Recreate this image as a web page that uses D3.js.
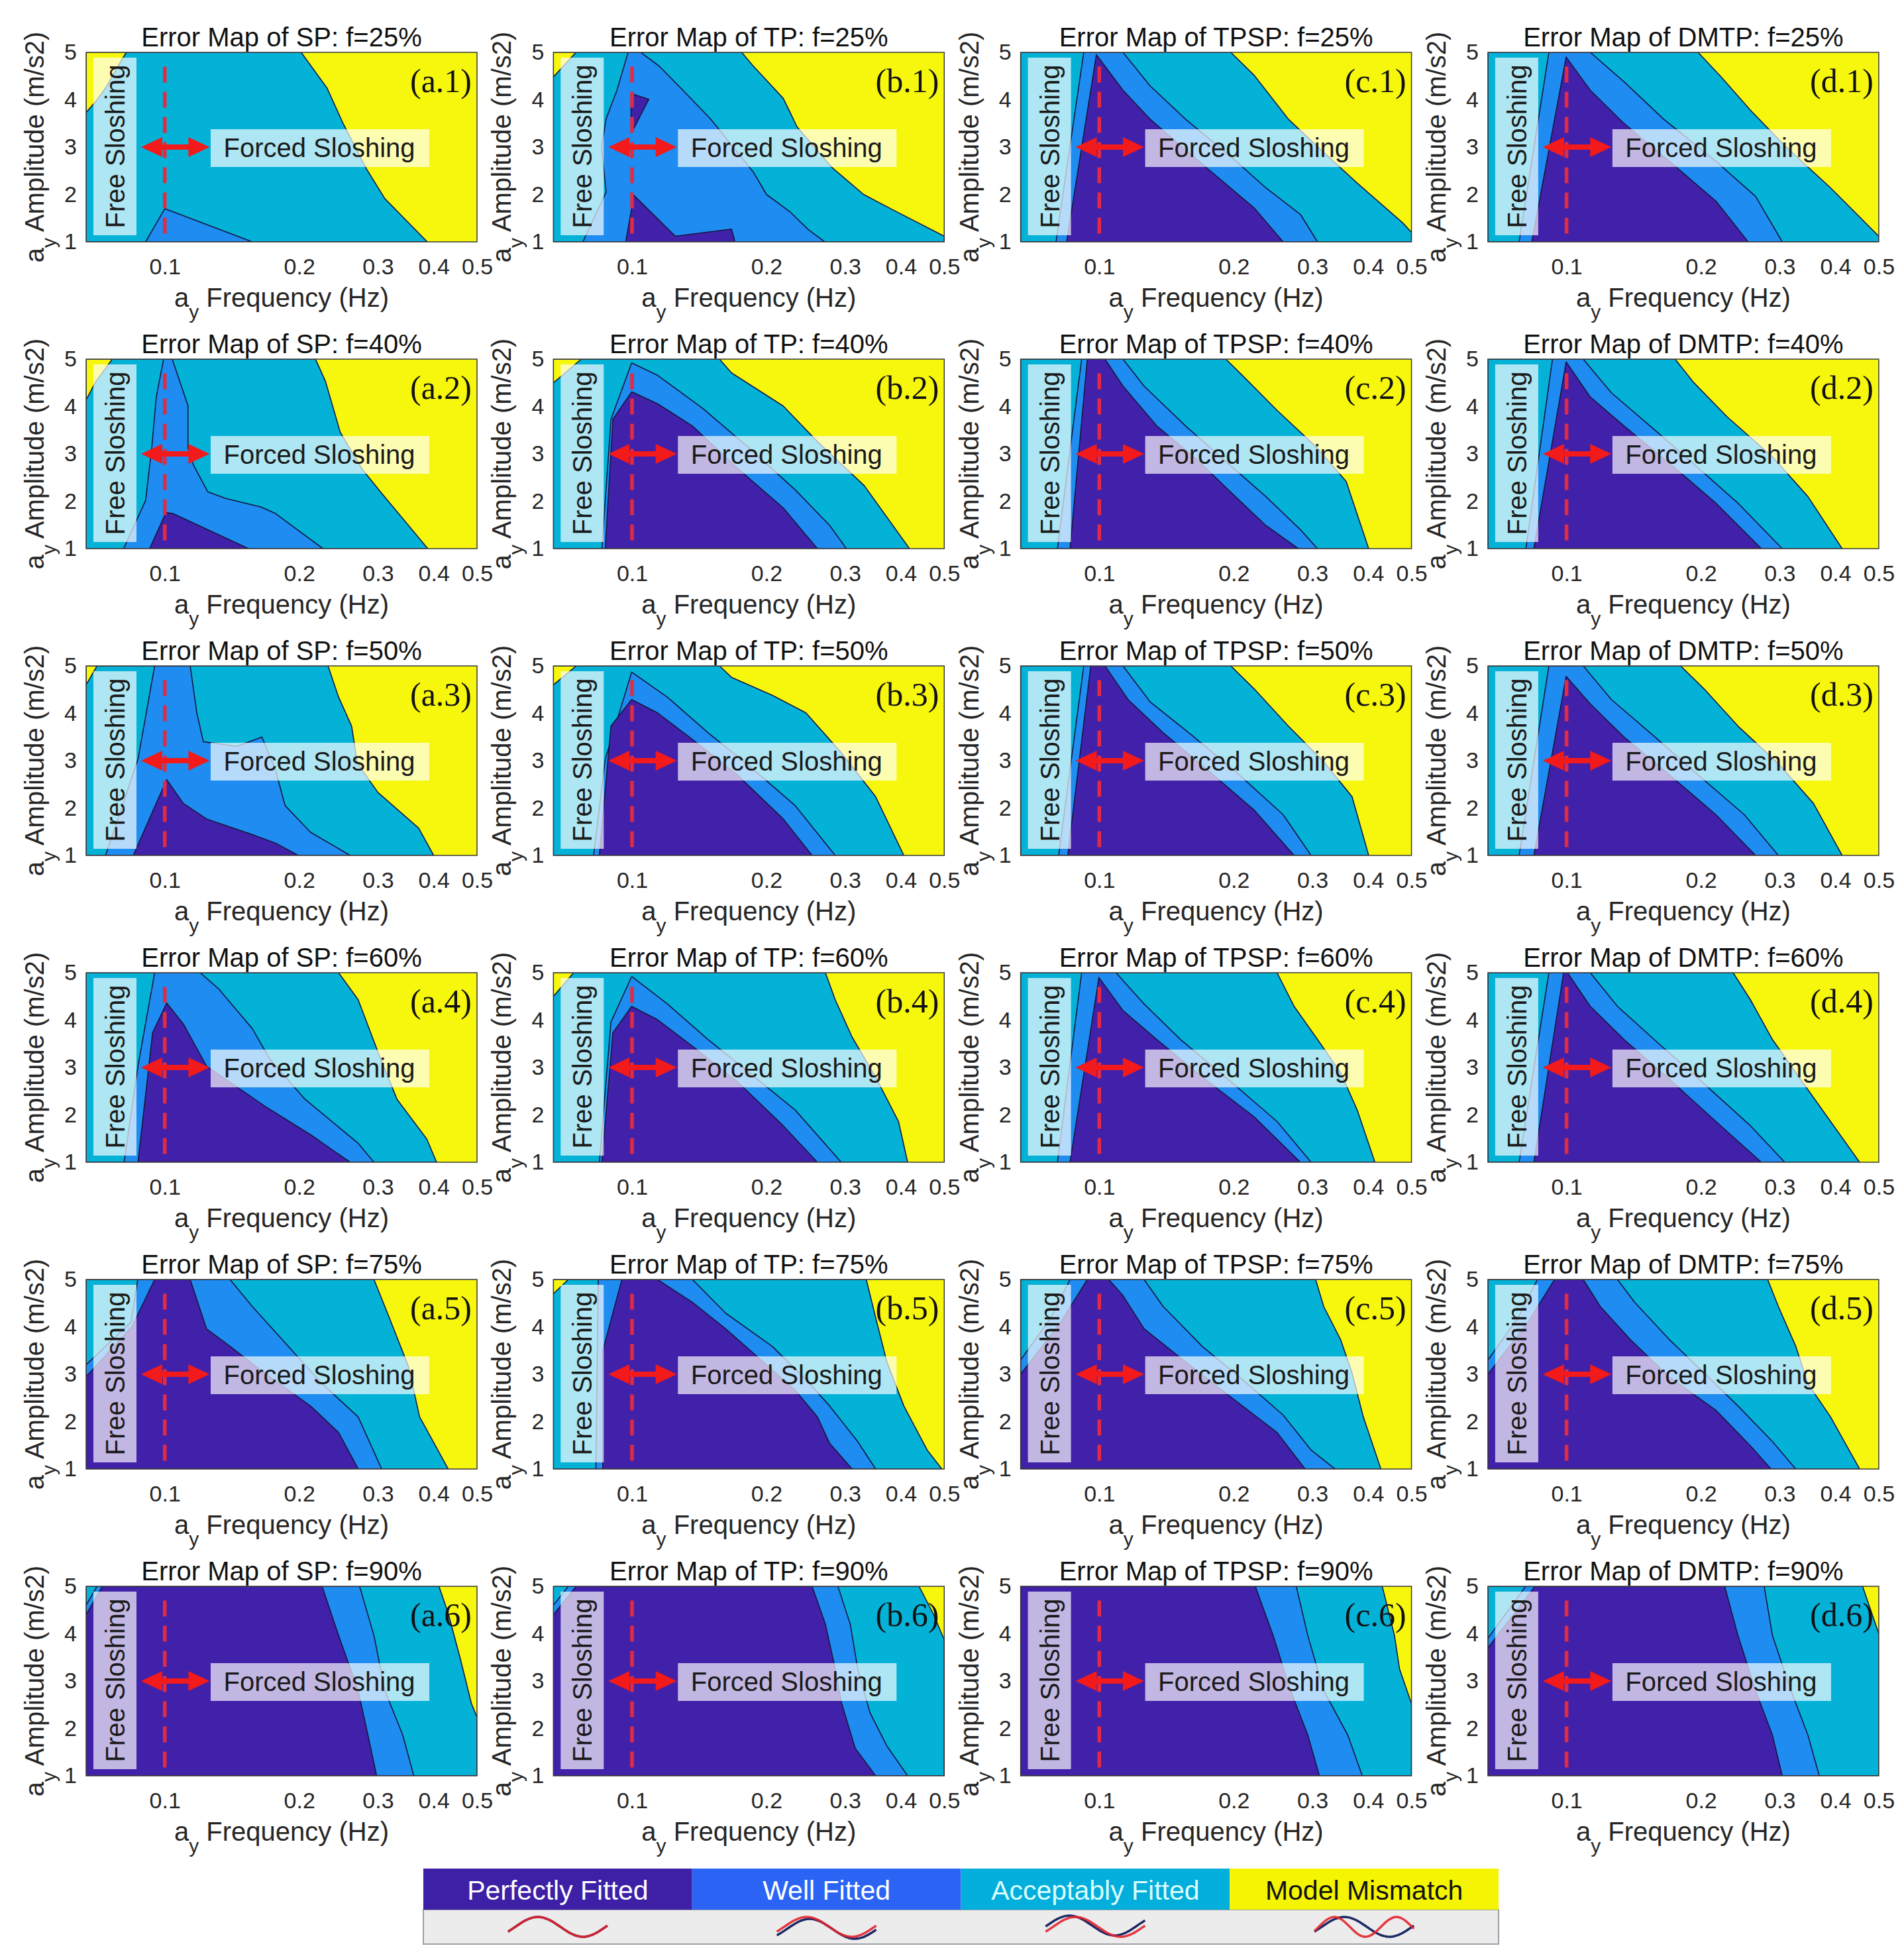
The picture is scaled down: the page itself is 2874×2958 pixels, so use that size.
<!DOCTYPE html>
<html><head><meta charset="utf-8">
<script src="https://cdn.jsdelivr.net/npm/d3@7"></script>
<style>body{margin:0;background:#fff}</style>
</head><body>
<svg id="chart" width="2874" height="2958" xmlns="http://www.w3.org/2000/svg"></svg>
<script>
// ---------------- data ----------------
const F = 1 / 15, R = 0.5;                 // frequency domain ends (Hz)
const methods = ["SP", "TP", "TPSP", "DMTP"];
const fillLevels = [25, 40, 50, 60, 75, 90];
const colLetters = ["a", "b", "c", "d"];
const xTicks = [0.1, 0.2, 0.3, 0.4, 0.5];
const yTicks = [1, 2, 3, 4, 5];
const levelNames = ["Perfectly Fitted", "Well Fitted", "Acceptably Fitted", "Model Mismatch"];
const resonanceFreq = 0.1;
const arrowSpan = [0.0885, 0.126];
// region polygons [level, [[freq, amplitude], ...]] painted over a Model-Mismatch background
// level: 0 perfectly, 1 well, 2 acceptably, 3 mismatch
const a1 = [
  [2, [[F,5],[0.202,5],[0.231,4.24],[0.251,3.49],[0.282,2.56],[0.311,1.91],[0.387,1],[F,1]]],
  [1, [[0.0906,1],[0.100,1.70],[0.157,1]]],
  [3, [[F,3.73],[0.070,3.96],[0.0736,4.24],[0.0786,4.71],[0.082,5],[F,5]]]
];
const b1 = [
  [2, [[F,5],[0.176,5],[0.186,4.73],[0.218,4.03],[0.226,3.73],[0.234,3.43],[0.281,2.56],[0.330,2.0],[0.383,1.68],[R,1.12],[R,1],[F,1]]],
  [1, [[0.098,5],[0.1046,5],[0.115,4.71],[0.130,4.2],[0.150,3.59],[0.187,2.47],[0.200,2.0],[0.226,1.63],[0.248,1.26],[0.270,1],[0.0776,1],[0.0875,2.05],[0.0855,3.0],[0.0875,3.6],[0.0925,4.2]]],
  [0, [[0.0995,4.13],[0.109,4.01],[0.1005,3.36],[0.0995,3.40]]],
  [0, [[0.0968,1],[0.101,1.98],[0.125,1.12],[0.167,1.27],[0.170,1]]],
  [3, [[F,5],[0.0749,5],[F,4.48]]]
];
const c1 = [
  [2, [[F,5],[0.197,5],[0.222,4.52],[0.265,3.59],[0.318,2.89],[0.378,2.24],[0.478,1.4],[R,1.2],[R,1],[F,1]]],
  [1, [[0.0923,5],[0.113,5],[0.130,4.29],[0.156,3.59],[0.197,2.8],[0.236,2.14],[0.282,1.58],[0.308,1],[0.080,1]]],
  [0, [[0.0985,4.95],[0.113,4.2],[0.130,3.59],[0.156,2.94],[0.186,2.33],[0.222,1.72],[0.258,1],[0.0845,1]]]
];
const d1 = [
  [2, [[F,5],[0.197,5],[0.222,4.48],[0.258,3.78],[0.308,3.03],[0.390,2.14],[R,1.12],[R,1],[F,1]]],
  [1, [[0.0913,5],[0.113,5],[0.1345,4.38],[0.165,3.59],[0.216,2.7],[0.265,1.96],[0.304,1],[0.0783,1]]],
  [0, [[0.0998,4.9],[0.113,4.2],[0.1345,3.5],[0.170,2.7],[0.216,1.86],[0.255,1],[0.0836,1]]]
];
const a2 = [
  [2, [[F,5],[0.2175,5],[0.229,4.53],[0.247,3.46],[0.277,2.67],[0.304,2.2],[0.388,1],[F,1]]],
  [1, [[0.0994,5],[0.1039,5],[0.1127,4.02],[0.1127,3.13],[0.116,2.76],[0.1248,2.2],[0.137,2.06],[0.164,1.88],[0.177,1.74],[0.226,1],[0.0809,1],[0.0906,2.02],[0.0935,3.13],[0.0957,4.2]]],
  [0, [[0.0925,1],[0.1006,1.76],[0.1043,1.74],[0.154,1]]],
  [3, [[F,5],[0.0763,5],[0.0701,4.53],[F,4.14]]]
];
const b2 = [
  [2, [[F,5],[0.157,5],[0.167,4.71],[0.218,4.01],[0.260,3.26],[0.331,2.33],[0.418,1],[F,1]]],
  [1, [[0.0998,4.92],[0.114,4.66],[0.144,3.96],[0.183,3.12],[0.232,2.24],[0.277,1.49],[0.302,1],[0.0856,1],[0.0897,3.73]]],
  [0, [[0.0998,4.31],[0.114,4.06],[0.1365,3.59],[0.172,2.70],[0.218,1.86],[0.260,1],[0.0871,1],[0.0906,3.73]]],
  [3, [[F,5],[0.077,5],[F,4.5]]]
];
const c2 = [
  [2, [[F,5],[0.192,5],[0.209,4.66],[0.250,3.92],[0.308,3.12],[0.357,2.42],[0.401,1],[F,1]]],
  [1, [[0.0913,5],[0.113,5],[0.126,4.43],[0.156,3.59],[0.192,2.84],[0.236,2.1],[0.282,1.4],[0.308,1],[0.0806,1]]],
  [0, [[0.094,5],[0.103,5],[0.113,4.43],[0.1345,3.59],[0.165,2.89],[0.197,2.19],[0.236,1.49],[0.279,1],[0.086,1]]]
];
const d2 = [
  [2, [[F,5],[0.175,5],[0.192,4.52],[0.229,3.78],[0.289,2.94],[0.347,2.1],[0.414,1],[F,1]]],
  [1, [[0.0930,5],[0.109,5],[0.126,4.29],[0.156,3.54],[0.192,2.8],[0.242,1.96],[0.304,1],[0.0811,1]]],
  [0, [[0.0998,4.94],[0.113,4.2],[0.1345,3.59],[0.170,2.8],[0.216,1.96],[0.273,1],[0.0845,1]]]
];
const a3 = [
  [2, [[F,5],[0.232,5],[0.245,4.34],[0.262,3.73],[0.270,2.94],[0.300,2.33],[0.370,1.58],[0.400,1],[F,1]]],
  [1, [[0.0949,5],[0.114,5],[0.118,4.0],[0.122,3.4],[0.145,3.3],[0.165,3.5],[0.177,2.8],[0.186,2.05],[0.212,1.49],[0.260,1],[0.0737,1],[0.0871,3.03]]],
  [0, [[0.101,2.6],[0.110,2.1],[0.124,1.77],[0.157,1.44],[0.177,1.26],[0.199,1],[0.085,1]]],
  [3, [[F,5],[0.0705,5],[F,4.6]]]
];
const b3 = [
  [2, [[F,5],[0.157,5],[0.167,4.76],[0.206,4.38],[0.245,4.01],[0.294,3.17],[0.351,2.24],[0.406,1],[F,1]]],
  [1, [[0.0998,4.87],[0.120,4.34],[0.148,3.59],[0.183,2.89],[0.232,2.05],[0.285,1],[0.082,1],[0.0871,3.03]]],
  [0, [[0.0998,4.29],[0.114,4.01],[0.1365,3.45],[0.172,2.7],[0.218,1.77],[0.253,1],[0.0845,1],[0.0897,3.73]]],
  [3, [[F,5],[0.075,5],[F,4.6]]]
];
const c3 = [
  [2, [[F,5],[0.197,5],[0.222,4.52],[0.265,3.73],[0.318,2.98],[0.368,2.24],[0.401,1],[F,1]]],
  [1, [[0.0923,5],[0.113,5],[0.130,4.24],[0.161,3.54],[0.203,2.75],[0.258,1.86],[0.298,1],[0.0811,1]]],
  [0, [[0.0957,5],[0.103,5],[0.116,4.29],[0.139,3.59],[0.175,2.8],[0.222,1.96],[0.273,1],[0.085,1]]]
];
const d3r = [
  [2, [[F,5],[0.180,5],[0.203,4.52],[0.242,3.73],[0.298,2.94],[0.357,2.1],[0.414,1],[F,1]]],
  [1, [[0.0913,5],[0.109,5],[0.126,4.29],[0.156,3.54],[0.197,2.7],[0.250,1.86],[0.298,1],[0.0783,1]]],
  [0, [[0.0998,4.78],[0.113,4.2],[0.1345,3.5],[0.170,2.7],[0.216,1.86],[0.265,1],[0.0845,1]]]
];
const a4 = [
  [2, [[F,5],[0.245,5],[0.271,4.43],[0.302,3.26],[0.331,2.33],[0.386,1.49],[0.406,1],[F,1]]],
  [1, [[0.0949,5],[0.120,5],[0.132,4.66],[0.157,3.82],[0.172,3.17],[0.206,2.33],[0.271,1.4],[0.294,1],[0.0811,1],[0.0871,3.03]]],
  [0, [[0.101,4.36],[0.110,3.92],[0.124,3.03],[0.167,2.19],[0.212,1.58],[0.260,1],[0.0871,1],[0.0939,3.73]]]
];
const b4 = [
  [2, [[F,5],[0.271,5],[0.285,4.43],[0.311,3.64],[0.351,2.8],[0.395,1.86],[0.414,1],[F,1]]],
  [1, [[0.0998,4.92],[0.120,4.34],[0.148,3.59],[0.183,2.89],[0.232,2.1],[0.294,1],[0.0845,1],[0.0897,3.96]]],
  [0, [[0.0998,4.29],[0.114,4.01],[0.1365,3.45],[0.172,2.7],[0.218,1.77],[0.260,1],[0.0856,1],[0.0906,3.73]]],
  [3, [[F,5],[0.074,5],[F,4.5]]]
];
const c4 = [
  [2, [[F,5],[0.250,5],[0.273,4.29],[0.308,3.59],[0.347,2.89],[0.378,2.1],[0.414,1],[F,1]]],
  [1, [[0.0913,5],[0.109,5],[0.126,4.34],[0.152,3.59],[0.197,2.7],[0.250,1.86],[0.298,1],[0.0806,1]]],
  [0, [[0.0998,4.9],[0.113,4.2],[0.1345,3.59],[0.170,2.8],[0.222,1.96],[0.282,1],[0.086,1]]]
];
const d4 = [
  [2, [[F,5],[0.236,5],[0.258,4.43],[0.289,3.59],[0.337,2.7],[0.390,1.86],[0.453,1],[F,1]]],
  [1, [[0.0913,5],[0.113,5],[0.130,4.29],[0.161,3.5],[0.203,2.66],[0.258,1.77],[0.308,1],[0.0783,1]]],
  [0, [[0.0985,5],[0.1005,5],[0.113,4.29],[0.1345,3.59],[0.170,2.75],[0.216,1.86],[0.273,1],[0.0845,1]]]
];
const a5 = [
  [2, [[F,5],[0.294,5],[0.318,4.2],[0.351,3.17],[0.372,2.1],[0.431,1],[F,1]]],
  [1, [[0.087,5],[0.140,5],[0.157,4.43],[0.189,3.59],[0.225,2.8],[0.271,2.1],[0.306,1],[F,1],[F,3.2],[0.084,4.1]]],
  [0, [[0.0949,5],[0.114,5],[0.124,3.96],[0.140,3.59],[0.167,3.03],[0.212,2.33],[0.245,1.77],[0.271,1],[F,1],[F,2.95],[0.0845,4.01]]]
];
const b5 = [
  [2, [[F,5],[0.3345,5],[0.351,4.2],[0.372,3.26],[0.406,2.33],[0.458,1.4],[0.494,1],[F,1]]],
  [1, [[0.084,5],[0.1365,5],[0.162,4.29],[0.206,3.59],[0.245,2.89],[0.277,2.33],[0.320,1.58],[0.351,1],[0.083,1]]],
  [0, [[0.0949,5],[0.114,5],[0.1365,4.52],[0.162,3.96],[0.194,3.31],[0.232,2.66],[0.260,2.1],[0.277,1.54],[0.311,1],[0.086,1],[0.086,3.5]]],
  [3, [[F,5],[0.072,5],[F,4.7]]]
];
const c5 = [
  [2, [[F,5],[0.305,5],[0.318,4.43],[0.347,3.73],[0.368,3.03],[0.390,2.1],[0.427,1],[F,1]]],
  [1, [[0.086,5],[0.126,5],[0.139,4.43],[0.170,3.59],[0.209,2.89],[0.258,2.14],[0.298,1.4],[0.337,1],[F,1],[F,3.3],[0.078,4.2]]],
  [0, [[0.094,5],[0.105,5],[0.113,4.66],[0.126,3.96],[0.156,3.26],[0.197,2.52],[0.250,1.77],[0.289,1],[F,1],[F,3.0],[0.082,4.1]]]
];
const d5 = [
  [2, [[F,5],[0.282,5],[0.298,4.43],[0.326,3.59],[0.347,2.8],[0.390,2.1],[0.453,1],[F,1]]],
  [1, [[0.086,5],[0.130,5],[0.142,4.52],[0.170,3.73],[0.203,3.03],[0.242,2.33],[0.289,1.58],[0.326,1],[F,1],[F,3.3],[0.078,4.2]]],
  [0, [[0.094,5],[0.109,5],[0.119,4.43],[0.139,3.73],[0.170,2.94],[0.216,2.24],[0.258,1.49],[0.287,1],[F,1],[F,3.0],[0.082,4.1]]]
];
const a6 = [
  [2, [[F,5],[0.411,5],[0.431,4.43],[0.458,3.5],[0.486,2.52],[R,2.24],[R,1],[F,1]]],
  [1, [[F,5],[0.273,5],[0.294,3.96],[0.311,2.80],[0.341,1.86],[0.361,1],[F,1]]],
  [0, [[0.0725,5],[0.225,5],[0.245,3.96],[0.271,2.80],[0.285,1.86],[0.298,1],[F,1],[F,4.4]]],
  [2, [[F,5],[0.0705,5],[F,4.6]]]
];
const b6 = [
  [2, [[F,5],[0.439,5],[0.472,4.43],[R,3.87],[R,1],[F,1]]],
  [1, [[F,5],[0.289,5],[0.308,4.2],[0.320,3.26],[0.341,2.33],[0.372,1.63],[0.414,1],[F,1]]],
  [0, [[0.075,5],[0.253,5],[0.271,4.2],[0.285,3.26],[0.294,2.56],[0.316,1.58],[0.351,1],[F,1],[F,4.4]]],
  [2, [[F,5],[0.072,5],[F,4.6]]]
];
const c6 = [
  [2, [[F,5],[0.430,5],[0.458,3.96],[0.470,3.26],[R,2.52],[R,1],[F,1]]],
  [1, [[F,5],[0.276,5],[0.293,3.96],[0.318,2.8],[0.360,1.86],[0.388,1],[F,1]]],
  [0, [[F,5],[0.2235,5],[0.245,3.96],[0.268,2.8],[0.293,1.86],[0.311,1],[F,1]]]
];
const d6 = [
  [2, [[F,5],[0.460,5],[R,4.0],[R,1],[F,1]]],
  [1, [[F,5],[0.277,5],[0.289,3.96],[0.318,2.8],[0.347,1.86],[0.368,1],[F,1]]],
  [0, [[0.085,5],[0.226,5],[0.242,3.96],[0.265,2.8],[0.289,1.86],[0.304,1],[F,1],[F,3.7]]],
  [2, [[F,5],[0.081,5],[F,3.9]]]
];
const panelRows = [
  [a1, b1, c1, d1],
  [a2, b2, c2, d2],
  [a3, b3, c3, d3r],
  [a4, b4, c4, d4],
  [a5, b5, c5, d5],
  [a6, b6, c6, d6]
];

// ---------------- style ----------------
const fillColors = ["#4121a9", "#1e8cf0", "#04b2d8", "#f7f70e"];
const legendColors = ["#3d20a6", "#2b64f4", "#02aedb", "#f5f503"];
const legendTextColors = ["#ffffff", "#ffffff", "#dcffff", "#111111"];
const FONT = "'Liberation Sans', Arial, Helvetica, sans-serif";
const SERIF = "'Liberation Serif', 'Times New Roman', serif";

const W = 590, H = 286;
const colX = c => 130 + 705.3 * c;
const rowY = r => 79 + 463 * r;

const svg = d3.select("#chart");
svg.append("rect").attr("width", 2874).attr("height", 2958).attr("fill", "#ffffff");
const defs = svg.append("defs");
defs.append("clipPath").attr("id", "plotclip").append("rect").attr("width", W).attr("height", H);

const x = d3.scaleLog().domain([F, R]).range([0, W]);
const y = d3.scaleLinear().domain([1, 5]).range([H, 0]);
const poly = d3.line().x(d => x(d[0])).y(d => y(d[1]));

panelRows.forEach((row, r) => {
  row.forEach((regions, c) => {
    const g = svg.append("g").attr("transform", `translate(${colX(c)},${rowY(r)})`);
    const plot = g.append("g").attr("clip-path", "url(#plotclip)");
    plot.append("rect").attr("width", W).attr("height", H).attr("fill", fillColors[3]);
    regions.forEach(([lv, pts]) => {
      plot.append("path").attr("d", poly(pts) + "Z")
        .attr("fill", fillColors[lv])
        .attr("stroke", "#161640").attr("stroke-width", 1.6).attr("stroke-linejoin", "round");
    });
    // resonance dashed line
    plot.append("line")
      .attr("x1", x(resonanceFreq)).attr("x2", x(resonanceFreq))
      .attr("y1", y(4.7)).attr("y2", y(1))
      .attr("stroke", "#e42a40").attr("stroke-width", 5.5).attr("stroke-dasharray", "24,14");
    // Free sloshing box
    plot.append("rect").attr("x", 11).attr("y", 8).attr("width", 65).attr("height", 268)
      .attr("fill", "#ffffff").attr("fill-opacity", 0.68);
    plot.append("text").attr("transform", `translate(44,142) rotate(-90)`)
      .attr("text-anchor", "middle").attr("dominant-baseline", "central")
      .attr("font-family", FONT).attr("font-size", 40).attr("fill", "#1a1a1a")
      .text("Free Sloshing");
    // Forced sloshing box
    plot.append("rect").attr("x", 188).attr("y", y(3) - 27).attr("width", 330).attr("height", 57)
      .attr("fill", "#ffffff").attr("fill-opacity", 0.68);
    plot.append("text").attr("x", 352).attr("y", y(3) + 1)
      .attr("text-anchor", "middle").attr("dominant-baseline", "central")
      .attr("font-family", FONT).attr("font-size", 40).attr("fill", "#1a1a1a")
      .text("Forced Sloshing");
    // double arrow
    const xl = x(arrowSpan[0]), xr = x(arrowSpan[1]), ya = y(3);
    const hl = 32, hw = 15, sw = 4;
    const arrowPath = d3.path();
    arrowPath.moveTo(xl, ya);
    arrowPath.lineTo(xl + hl, ya - hw);
    arrowPath.lineTo(xl + hl, ya - sw);
    arrowPath.lineTo(xr - hl, ya - sw);
    arrowPath.lineTo(xr - hl, ya - hw);
    arrowPath.lineTo(xr, ya);
    arrowPath.lineTo(xr - hl, ya + hw);
    arrowPath.lineTo(xr - hl, ya + sw);
    arrowPath.lineTo(xl + hl, ya + sw);
    arrowPath.lineTo(xl + hl, ya + hw);
    arrowPath.closePath();
    plot.append("path").attr("d", arrowPath.toString()).attr("fill", "#f21a1a");
    // panel tag
    g.append("text").attr("x", W - 8).attr("y", 60).attr("text-anchor", "end")
      .attr("font-family", SERIF).attr("font-size", 50).attr("fill", "#111")
      .text(`(${colLetters[c]}.${r + 1})`);
    // frame
    g.append("rect").attr("width", W).attr("height", H).attr("fill", "none")
      .attr("stroke", "#3a3a3a").attr("stroke-width", 1.5);
    // axes
    const xa = g.append("g").attr("transform", `translate(0,${H})`)
      .call(d3.axisBottom(x).tickValues(xTicks).tickFormat(d3.format(".1f")).tickSize(0).tickPadding(25));
    const ya2 = g.append("g")
      .call(d3.axisLeft(y).tickValues(yTicks).tickFormat(d3.format("d")).tickSize(0).tickPadding(14));
    [xa, ya2].forEach(a => {
      a.select(".domain").remove();
      a.selectAll("text").attr("font-family", FONT).attr("font-size", 34).attr("fill", "#262626");
    });
    // title
    g.append("text").attr("x", W / 2).attr("y", -9).attr("text-anchor", "middle")
      .attr("font-family", FONT).attr("font-size", 40).attr("fill", "#111")
      .text(`Error Map of ${methods[c]}: f=${fillLevels[r]}%`);
    // x label
    const xl2 = g.append("text").attr("x", W / 2).attr("y", H + 98).attr("text-anchor", "middle")
      .attr("font-family", FONT).attr("font-size", 40).attr("fill", "#262626");
    xl2.append("tspan").text("a");
    xl2.append("tspan").attr("dy", 18).attr("font-size", 30).text("y");
    xl2.append("tspan").attr("dy", -18).text(" Frequency (Hz)");
    // y label
    const yl = g.append("text").attr("transform", `translate(-64,${H / 2}) rotate(-90)`)
      .attr("text-anchor", "middle")
      .attr("font-family", FONT).attr("font-size", 40).attr("fill", "#262626");
    yl.append("tspan").text("a");
    yl.append("tspan").attr("dy", 18).attr("font-size", 30).text("y");
    yl.append("tspan").attr("dy", -18).text(" Amplitude (m/s2)");
  });
});

// ---------------- legend ----------------
const LX = 639, LW = 1623, LTop = 2820, LBarH = 62, LIconH = 52;
const lx = d3.scaleBand().domain(levelNames).range([LX, LX + LW]).paddingInner(0);
const lg = svg.append("g");
lg.append("rect").attr("x", LX).attr("y", LTop + LBarH).attr("width", LW).attr("height", LIconH)
  .attr("fill", "#ececec").attr("stroke", "#9aa0a8").attr("stroke-width", 2);
levelNames.forEach((name, i) => {
  lg.append("rect").attr("x", lx(name)).attr("y", LTop).attr("width", lx.bandwidth()).attr("height", LBarH)
    .attr("fill", legendColors[i]);
  lg.append("text").attr("x", lx(name) + lx.bandwidth() / 2).attr("y", LTop + LBarH / 2 + 2)
    .attr("text-anchor", "middle").attr("dominant-baseline", "central")
    .attr("font-family", FONT).attr("font-size", 41).attr("fill", legendTextColors[i])
    .text(name);
});
// wave glyphs (illustrative icons): [cycles per icon, peak position, vertical offset]
const waveSpec = [
  {red: [1.1, 0.3, 0], blue: [1.1, 0.3, 0]},
  {red: [1.1, 0.3, 0], blue: [1.1, 0.33, 3]},
  {red: [1.1, 0.3, 0], blue: [1.1, 0.24, -2]},
  {red: [1.6, 0.2, 0], blue: [1.1, 0.3, 0]}
];
const iconW = 150, iconA = 15;
waveSpec.forEach((s, i) => {
  const cx = lx(levelNames[i]) + lx.bandwidth() / 2, cy = LTop + LBarH + LIconH / 2;
  const samples = d3.range(0, 1.0001, 0.02);
  const mk = ([cyc, pk, dy]) => d3.line()
    .x(t => cx - iconW / 2 + t * iconW)
    .y(t => cy + dy - iconA * Math.cos(2 * Math.PI * cyc * (t - pk)))
    .curve(d3.curveBasis)(samples);
  lg.append("path").attr("d", mk(s.blue)).attr("fill", "none").attr("stroke", "#1d2a66").attr("stroke-width", 3.5);
  lg.append("path").attr("d", mk(s.red)).attr("fill", "none").attr("stroke", "#e3232f").attr("stroke-width", 3.5).attr("stroke-opacity", 0.9);
});
</script>
</body></html>
